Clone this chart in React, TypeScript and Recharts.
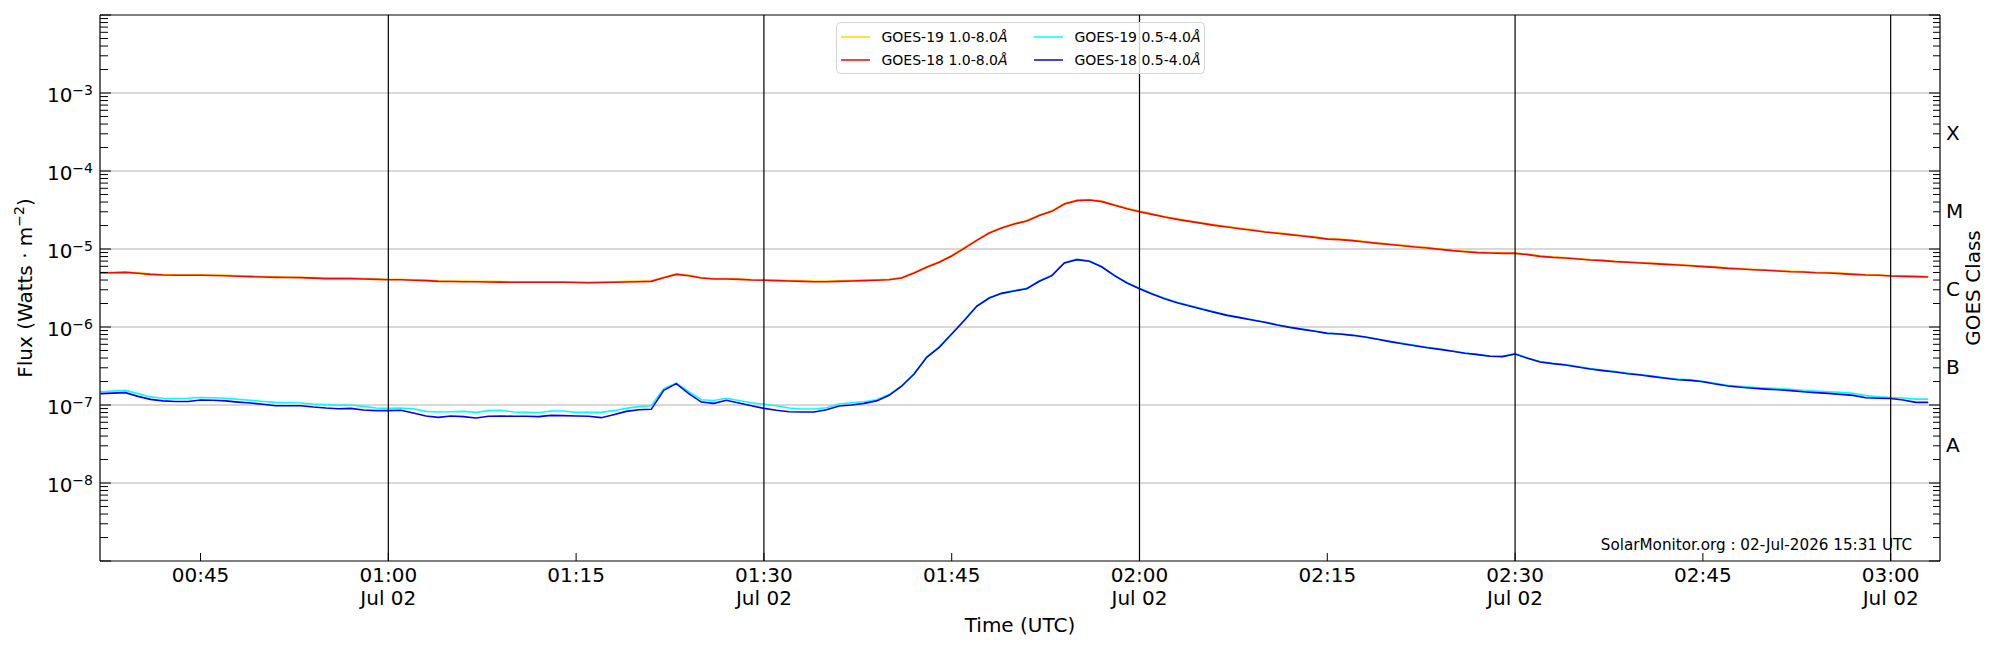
import React from "react";
import { LineChart, Line, XAxis, YAxis, ReferenceLine, Legend } from "recharts";

// minutes after 00:00 UTC, one sample per minute
const MINUTES = [
  37, 38, 39, 40, 41, 42, 43, 44, 45, 46, 47, 48, 49, 50, 51, 52, 53, 54, 55, 56,
  57, 58, 59, 60, 61, 62, 63, 64, 65, 66, 67, 68, 69, 70, 71, 72, 73, 74, 75, 76,
  77, 78, 79, 80, 81, 82, 83, 84, 85, 86, 87, 88, 89, 90, 91, 92, 93, 94, 95, 96,
  97, 98, 99, 100, 101, 102, 103, 104, 105, 106, 107, 108, 109, 110, 111, 112, 113, 114, 115, 116,
  117, 118, 119, 120, 121, 122, 123, 124, 125, 126, 127, 128, 129, 130, 131, 132, 133, 134, 135, 136,
  137, 138, 139, 140, 141, 142, 143, 144, 145, 146, 147, 148, 149, 150, 151, 152, 153, 154, 155, 156,
  157, 158, 159, 160, 161, 162, 163, 164, 165, 166, 167, 168, 169, 170, 171, 172, 173, 174, 175, 176,
  177, 178, 179, 180, 181, 182, 183,
];

const GOES19_LONG = [
  4.99e-6, 5.04e-6, 5.09e-6, 4.95e-6, 4.8e-6, 4.71e-6, 4.67e-6, 4.67e-6, 4.67e-6, 4.64e-6,
  4.62e-6, 4.55e-6, 4.49e-6, 4.45e-6, 4.4e-6, 4.37e-6, 4.35e-6, 4.29e-6, 4.23e-6, 4.23e-6,
  4.23e-6, 4.18e-6, 4.14e-6, 4.1e-6, 4.1e-6, 4.04e-6, 3.99e-6, 3.91e-6, 3.89e-6, 3.87e-6,
  3.86e-6, 3.84e-6, 3.82e-6, 3.8e-6, 3.8e-6, 3.8e-6, 3.8e-6, 3.8e-6, 3.78e-6, 3.76e-6,
  3.78e-6, 3.8e-6, 3.84e-6, 3.87e-6, 3.91e-6, 4.35e-6, 4.8e-6, 4.62e-6, 4.31e-6, 4.18e-6,
  4.18e-6, 4.14e-6, 4.06e-6, 4.03e-6, 3.99e-6, 3.95e-6, 3.91e-6, 3.87e-6, 3.87e-6, 3.91e-6,
  3.95e-6, 3.99e-6, 4.03e-6, 4.1e-6, 4.31e-6, 4.99e-6, 5.91e-6, 6.85e-6, 8.25e-6, 1.04e-5,
  1.31e-5, 1.62e-5, 1.89e-5, 2.12e-5, 2.32e-5, 2.72e-5, 3.09e-5, 3.84e-5, 4.23e-5, 4.31e-5,
  4.11e-5, 3.68e-5, 3.34e-5, 3.06e-5, 2.82e-5, 2.61e-5, 2.44e-5, 2.29e-5, 2.16e-5, 2.04e-5,
  1.94e-5, 1.85e-5, 1.77e-5, 1.67e-5, 1.61e-5, 1.55e-5, 1.49e-5, 1.43e-5, 1.36e-5, 1.34e-5,
  1.3e-5, 1.25e-5, 1.2e-5, 1.16e-5, 1.12e-5, 1.08e-5, 1.05e-5, 1.0e-5, 9.66e-6, 9.38e-6,
  9.11e-6, 9.02e-6, 8.93e-6, 8.93e-6, 8.59e-6, 8.17e-6, 7.94e-6, 7.79e-6, 7.55e-6, 7.34e-6,
  7.2e-6, 6.98e-6, 6.85e-6, 6.71e-6, 6.59e-6, 6.46e-6, 6.33e-6, 6.2e-6, 6.03e-6, 5.91e-6,
  5.73e-6, 5.62e-6, 5.51e-6, 5.41e-6, 5.3e-6, 5.2e-6, 5.15e-6, 5.04e-6, 4.99e-6, 4.9e-6,
  4.8e-6, 4.71e-6, 4.67e-6, 4.58e-6, 4.53e-6, 4.49e-6, 4.45e-6,
];

const GOES18_LONG = [
  4.92e-6, 4.97e-6, 5.02e-6, 4.88e-6, 4.73e-6, 4.64e-6, 4.6e-6, 4.6e-6, 4.6e-6, 4.57e-6,
  4.55e-6, 4.48e-6, 4.42e-6, 4.38e-6, 4.33e-6, 4.31e-6, 4.29e-6, 4.23e-6, 4.17e-6, 4.17e-6,
  4.17e-6, 4.12e-6, 4.08e-6, 4.04e-6, 4.04e-6, 3.98e-6, 3.93e-6, 3.85e-6, 3.83e-6, 3.81e-6,
  3.8e-6, 3.78e-6, 3.76e-6, 3.74e-6, 3.74e-6, 3.74e-6, 3.74e-6, 3.74e-6, 3.72e-6, 3.7e-6,
  3.72e-6, 3.74e-6, 3.78e-6, 3.81e-6, 3.85e-6, 4.29e-6, 4.73e-6, 4.55e-6, 4.25e-6, 4.12e-6,
  4.12e-6, 4.08e-6, 4.0e-6, 3.97e-6, 3.93e-6, 3.89e-6, 3.85e-6, 3.81e-6, 3.81e-6, 3.85e-6,
  3.89e-6, 3.93e-6, 3.97e-6, 4.04e-6, 4.25e-6, 4.92e-6, 5.82e-6, 6.75e-6, 8.13e-6, 1.02e-5,
  1.29e-5, 1.6e-5, 1.86e-5, 2.09e-5, 2.29e-5, 2.68e-5, 3.04e-5, 3.78e-5, 4.17e-5, 4.25e-5,
  4.05e-5, 3.63e-5, 3.29e-5, 3.01e-5, 2.78e-5, 2.57e-5, 2.4e-5, 2.26e-5, 2.13e-5, 2.01e-5,
  1.91e-5, 1.82e-5, 1.74e-5, 1.65e-5, 1.59e-5, 1.53e-5, 1.47e-5, 1.41e-5, 1.34e-5, 1.32e-5,
  1.28e-5, 1.23e-5, 1.18e-5, 1.14e-5, 1.1e-5, 1.06e-5, 1.03e-5, 9.9e-6, 9.52e-6, 9.24e-6,
  8.98e-6, 8.89e-6, 8.8e-6, 8.8e-6, 8.46e-6, 8.05e-6, 7.82e-6, 7.67e-6, 7.44e-6, 7.23e-6,
  7.09e-6, 6.88e-6, 6.75e-6, 6.61e-6, 6.49e-6, 6.36e-6, 6.24e-6, 6.11e-6, 5.94e-6, 5.82e-6,
  5.65e-6, 5.54e-6, 5.43e-6, 5.33e-6, 5.22e-6, 5.12e-6, 5.07e-6, 4.97e-6, 4.92e-6, 4.83e-6,
  4.73e-6, 4.64e-6, 4.6e-6, 4.51e-6, 4.46e-6, 4.42e-6, 4.38e-6,
];

const GOES19_SHORT = [
  1.48e-7, 1.51e-7, 1.54e-7, 1.4e-7, 1.27e-7, 1.22e-7, 1.21e-7, 1.22e-7, 1.25e-7, 1.24e-7,
  1.22e-7, 1.18e-7, 1.15e-7, 1.11e-7, 1.08e-7, 1.07e-7, 1.06e-7, 1.03e-7, 1.01e-7, 9.9e-8,
  1.0e-7, 9.61e-8, 9.15e-8, 9.06e-8, 9.15e-8, 8.97e-8, 8.29e-8, 8.13e-8, 8.21e-8, 8.29e-8,
  8.05e-8, 8.46e-8, 8.55e-8, 8.13e-8, 8.05e-8, 7.97e-8, 8.38e-8, 8.38e-8, 8.05e-8, 8.05e-8,
  8.05e-8, 8.46e-8, 9.06e-8, 9.52e-8, 9.8e-8, 1.62e-7, 1.91e-7, 1.48e-7, 1.17e-7, 1.14e-7,
  1.22e-7, 1.14e-7, 1.07e-7, 1.02e-7, 9.8e-8, 9.15e-8, 8.89e-8, 8.89e-8, 9.24e-8, 1.03e-7,
  1.07e-7, 1.1e-7, 1.17e-7, 1.36e-7, 1.76e-7, 2.53e-7, 4.12e-7, 5.54e-7, 8.2e-7, 1.22e-6,
  1.86e-6, 2.37e-6, 2.72e-6, 2.93e-6, 3.13e-6, 3.89e-6, 4.6e-6, 6.67e-6, 7.37e-6, 7.02e-6,
  5.94e-6, 4.6e-6, 3.7e-6, 3.13e-6, 2.68e-6, 2.33e-6, 2.07e-6, 1.88e-6, 1.71e-6, 1.56e-6,
  1.42e-6, 1.33e-6, 1.24e-6, 1.16e-6, 1.07e-6, 1.0e-6, 9.42e-7, 8.89e-7, 8.37e-7, 8.21e-7,
  7.9e-7, 7.51e-7, 7.02e-7, 6.55e-7, 6.17e-7, 5.82e-7, 5.48e-7, 5.22e-7, 4.93e-7, 4.65e-7,
  4.46e-7, 4.25e-7, 4.21e-7, 4.55e-7, 4.01e-7, 3.6e-7, 3.43e-7, 3.3e-7, 3.11e-7, 2.93e-7,
  2.8e-7, 2.69e-7, 2.56e-7, 2.46e-7, 2.35e-7, 2.24e-7, 2.15e-7, 2.1e-7, 2.01e-7, 1.9e-7,
  1.79e-7, 1.74e-7, 1.69e-7, 1.65e-7, 1.62e-7, 1.59e-7, 1.54e-7, 1.51e-7, 1.48e-7, 1.45e-7,
  1.41e-7, 1.32e-7, 1.27e-7, 1.25e-7, 1.23e-7, 1.19e-7, 1.19e-7,
];

const GOES18_SHORT = [
  1.4e-7, 1.42e-7, 1.44e-7, 1.29e-7, 1.18e-7, 1.13e-7, 1.11e-7, 1.11e-7, 1.16e-7, 1.15e-7,
  1.13e-7, 1.09e-7, 1.06e-7, 1.02e-7, 9.8e-8, 9.8e-8, 9.8e-8, 9.43e-8, 9.15e-8, 8.97e-8,
  9.06e-8, 8.63e-8, 8.46e-8, 8.46e-8, 8.55e-8, 7.9e-8, 7.23e-8, 6.95e-8, 7.23e-8, 7.09e-8,
  6.81e-8, 7.16e-8, 7.23e-8, 7.16e-8, 7.16e-8, 7.09e-8, 7.37e-8, 7.3e-8, 7.23e-8, 7.16e-8,
  6.88e-8, 7.52e-8, 8.29e-8, 8.71e-8, 8.8e-8, 1.54e-7, 1.88e-7, 1.4e-7, 1.09e-7, 1.05e-7,
  1.15e-7, 1.06e-7, 9.8e-8, 9.06e-8, 8.55e-8, 8.21e-8, 8.13e-8, 8.13e-8, 8.71e-8, 9.71e-8,
  1.0e-7, 1.05e-7, 1.13e-7, 1.33e-7, 1.74e-7, 2.5e-7, 4.08e-7, 5.49e-7, 8.13e-7, 1.21e-6,
  1.84e-6, 2.35e-6, 2.7e-6, 2.9e-6, 3.1e-6, 3.85e-6, 4.55e-6, 6.61e-6, 7.3e-6, 6.95e-6,
  5.88e-6, 4.55e-6, 3.66e-6, 3.1e-6, 2.65e-6, 2.31e-6, 2.05e-6, 1.86e-6, 1.69e-6, 1.54e-6,
  1.41e-6, 1.32e-6, 1.23e-6, 1.15e-6, 1.06e-6, 9.9e-7, 9.33e-7, 8.8e-7, 8.29e-7, 8.13e-7,
  7.82e-7, 7.44e-7, 6.95e-7, 6.49e-7, 6.11e-7, 5.76e-7, 5.43e-7, 5.17e-7, 4.88e-7, 4.6e-7,
  4.42e-7, 4.21e-7, 4.17e-7, 4.51e-7, 3.97e-7, 3.56e-7, 3.39e-7, 3.26e-7, 3.07e-7, 2.89e-7,
  2.76e-7, 2.65e-7, 2.52e-7, 2.42e-7, 2.31e-7, 2.2e-7, 2.11e-7, 2.07e-7, 1.99e-7, 1.86e-7,
  1.75e-7, 1.69e-7, 1.64e-7, 1.6e-7, 1.57e-7, 1.53e-7, 1.48e-7, 1.44e-7, 1.41e-7, 1.37e-7,
  1.33e-7, 1.24e-7, 1.22e-7, 1.21e-7, 1.16e-7, 1.08e-7, 1.08e-7,
];

const X_TICKS = [45, 60, 75, 90, 105, 120, 135, 150, 165, 180];
const X_TICK_LABELS = ["00:45", "01:00", "01:15", "01:30", "01:45", "02:00", "02:15", "02:30", "02:45", "03:00"];
const DAY_MARKS = [60, 90, 120, 150, 180];
const DAY_LABEL = "Jul 02";

const DECADES = [1e-9, 1e-8, 1e-7, 1e-6, 1e-5, 1e-4, 1e-3, 1e-2];
const LABELLED_DECADES = [1e-8, 1e-7, 1e-6, 1e-5, 1e-4, 1e-3];
const CLASS_LABELS = ["A", "B", "C", "M", "X"];
const CLASS_CENTERS = [3.162e-8, 3.162e-7, 3.162e-6, 3.162e-5, 3.162e-4];

const SERIES = [
  { key: "g19Long", name: "GOES-19 1.0-8.0", color: "#ffd700" },
  { key: "g18Long", name: "GOES-18 1.0-8.0", color: "#ff0000" },
  { key: "g19Short", name: "GOES-19 0.5-4.0", color: "#00ffff" },
  { key: "g18Short", name: "GOES-18 0.5-4.0", color: "#0000ff" },
];

const rows = MINUTES.map((t, i) => ({
  t,
  g19Long: GOES19_LONG[i],
  g18Long: GOES18_LONG[i],
  g19Short: GOES19_SHORT[i],
  g18Short: GOES18_SHORT[i],
}));

const minorTicks: number[] = [];
DECADES.slice(0, -1).forEach((d) => {
  for (let m = 2; m <= 9; m++) minorTicks.push(m * d);
});
const LEFT_TICKS = [...DECADES, ...minorTicks];
const RIGHT_TICKS = [...DECADES, ...minorTicks, ...CLASS_CENTERS];

const FONT = '"DejaVu Sans", sans-serif';

const isDecade = (v: number) => Math.abs(Math.log10(v) - Math.round(Math.log10(v))) < 1e-6;

const FluxTick = (props: any) => {
  const { x, y, payload } = props;
  const v = payload.value;
  const major = isDecade(v);
  const labelled = LABELLED_DECADES.some((d) => Math.abs(d - v) / d < 1e-6);
  return (
    <g>
      <line x1={x} x2={x + (major ? 11 : 8)} y1={y} y2={y} stroke="#000" strokeWidth={1} />
      {labelled && (
        <text x={x - 7} y={y + 8.6} textAnchor="end" fontSize={20} fill="#000" fontFamily={FONT}>
          10
          <tspan dy={-7} fontSize={14}>
            {"\u2212" + Math.abs(Math.round(Math.log10(v)))}
          </tspan>
        </text>
      )}
    </g>
  );
};

const ClassTick = (props: any) => {
  const { x, y, payload } = props;
  const v = payload.value;
  const ci = CLASS_CENTERS.findIndex((c) => Math.abs(c - v) / c < 1e-6);
  if (ci >= 0) {
    return (
      <text x={x + 6} y={y + 8} fontSize={20} fill="#000" fontFamily={FONT}>
        {CLASS_LABELS[ci]}
      </text>
    );
  }
  return <line x1={x} x2={x - (isDecade(v) ? 11 : 7)} y1={y} y2={y} stroke="#000" strokeWidth={1} />;
};

const TimeTick = (props: any) => {
  const { x, y, payload } = props;
  const i = X_TICKS.indexOf(payload.value);
  return (
    <g>
      <line x1={x} x2={x} y1={y} y2={y - 8} stroke="#000" strokeWidth={1} />
      <text x={x} y={y + 21} textAnchor="middle" fontSize={20} fill="#000" fontFamily={FONT}>
        {X_TICK_LABELS[i]}
      </text>
      {DAY_MARKS.includes(payload.value) && (
        <text x={x} y={y + 44} textAnchor="middle" fontSize={20} fill="#000" fontFamily={FONT}>
          {DAY_LABEL}
        </text>
      )}
    </g>
  );
};

const LegendBox = () => (
  <svg width={370} height={53} style={{ display: "block" }}>
    <rect x={0.5} y={0.5} width={368} height={51} rx={4} fill="rgba(255,255,255,0.8)" stroke="#d4d4d4" />
    {SERIES.map((s, i) => {
      const col = Math.floor(i / 2);
      const row = i % 2;
      const lx = col === 0 ? 5 : 198;
      const cy = row === 0 ? 15 : 38;
      return (
        <g key={s.key}>
          <line x1={lx} x2={lx + 29} y1={cy} y2={cy} stroke={s.color} strokeWidth={1.5} />
          <text x={lx + 40.5} y={cy + 5} fontSize={14} fill="#000" fontFamily={FONT}>
            {s.name}
            <tspan fontStyle="italic">Å</tspan>
          </text>
        </g>
      );
    })}
  </svg>
);

export default function App() {
  return (
    <div
      style={{
        position: "absolute",
        left: 0,
        top: 0,
        width: 2000,
        height: 650,
        background: "#fff",
        fontFamily: FONT,
      }}
    >
      <LineChart width={2000} height={650} data={rows} margin={{ top: 15, right: 0, bottom: 0, left: 0 }}>
        <XAxis
          dataKey="t"
          type="number"
          domain={[36.97, 183.94]}
          allowDataOverflow
          ticks={X_TICKS}
          interval={0}
          tickSize={0}
          tickMargin={0}
          tickLine={false}
          tick={TimeTick}
          height={89}
          axisLine={{ stroke: "#000", strokeWidth: 1.2 }}
        />
        <YAxis
          yAxisId="flux"
          scale="log"
          domain={[1e-9, 1e-2]}
          allowDataOverflow
          ticks={LEFT_TICKS}
          interval={0}
          tickSize={0}
          tickMargin={0}
          tickLine={false}
          tick={FluxTick}
          width={100}
          axisLine={{ stroke: "#000", strokeWidth: 1.2 }}
        />
        <YAxis
          yAxisId="cls"
          orientation="right"
          scale="log"
          domain={[1e-9, 1e-2]}
          allowDataOverflow
          ticks={RIGHT_TICKS}
          interval={0}
          tickSize={0}
          tickMargin={0}
          tickLine={false}
          tick={ClassTick}
          width={60}
          axisLine={{ stroke: "#000", strokeWidth: 1.2 }}
        />
        {LABELLED_DECADES.map((d) => (
          <ReferenceLine key={d} yAxisId="flux" y={d} stroke="#b0b0b0" strokeWidth={1} />
        ))}
        <ReferenceLine yAxisId="flux" y={1e-2} stroke="#000" strokeWidth={1.2} />
        {SERIES.map((s) => (
          <Line
            key={s.key}
            yAxisId="flux"
            type="linear"
            dataKey={s.key}
            name={s.name}
            stroke={s.color}
            strokeWidth={1.6}
            dot={false}
            isAnimationActive={false}
          />
        ))}
        {DAY_MARKS.map((m) => (
          <ReferenceLine key={m} yAxisId="flux" x={m} stroke="#000" strokeWidth={1.2} />
        ))}
        <Legend
          content={() => <LegendBox />}
          layout="vertical"
          align="center"
          verticalAlign="middle"
          wrapperStyle={{ left: 836, top: 22, width: 370, height: 53 }}
        />
      </LineChart>
      <svg
        width={2000}
        height={650}
        style={{ position: "absolute", left: 0, top: 0, pointerEvents: "none" }}
        fontFamily={FONT}
      >
        <text x={32} y={288} transform="rotate(-90 32 288)" textAnchor="middle" fontSize={20} fill="#000">
          Flux (Watts · m
          <tspan dy={-8} fontSize={14}>
            {"\u22122"}
          </tspan>
          <tspan dy={8}>)</tspan>
        </text>
        <text x={1980} y={288} transform="rotate(-90 1980 288)" textAnchor="middle" fontSize={20} fill="#000">
          GOES Class
        </text>
        <text x={1020} y={632} textAnchor="middle" fontSize={20} fill="#000">
          Time (UTC)
        </text>
        <text x={1912} y={550} textAnchor="end" fontSize={15.2} fill="#000">
          SolarMonitor.org : 02-Jul-2026 15:31 UTC
        </text>
      </svg>
    </div>
  );
}
